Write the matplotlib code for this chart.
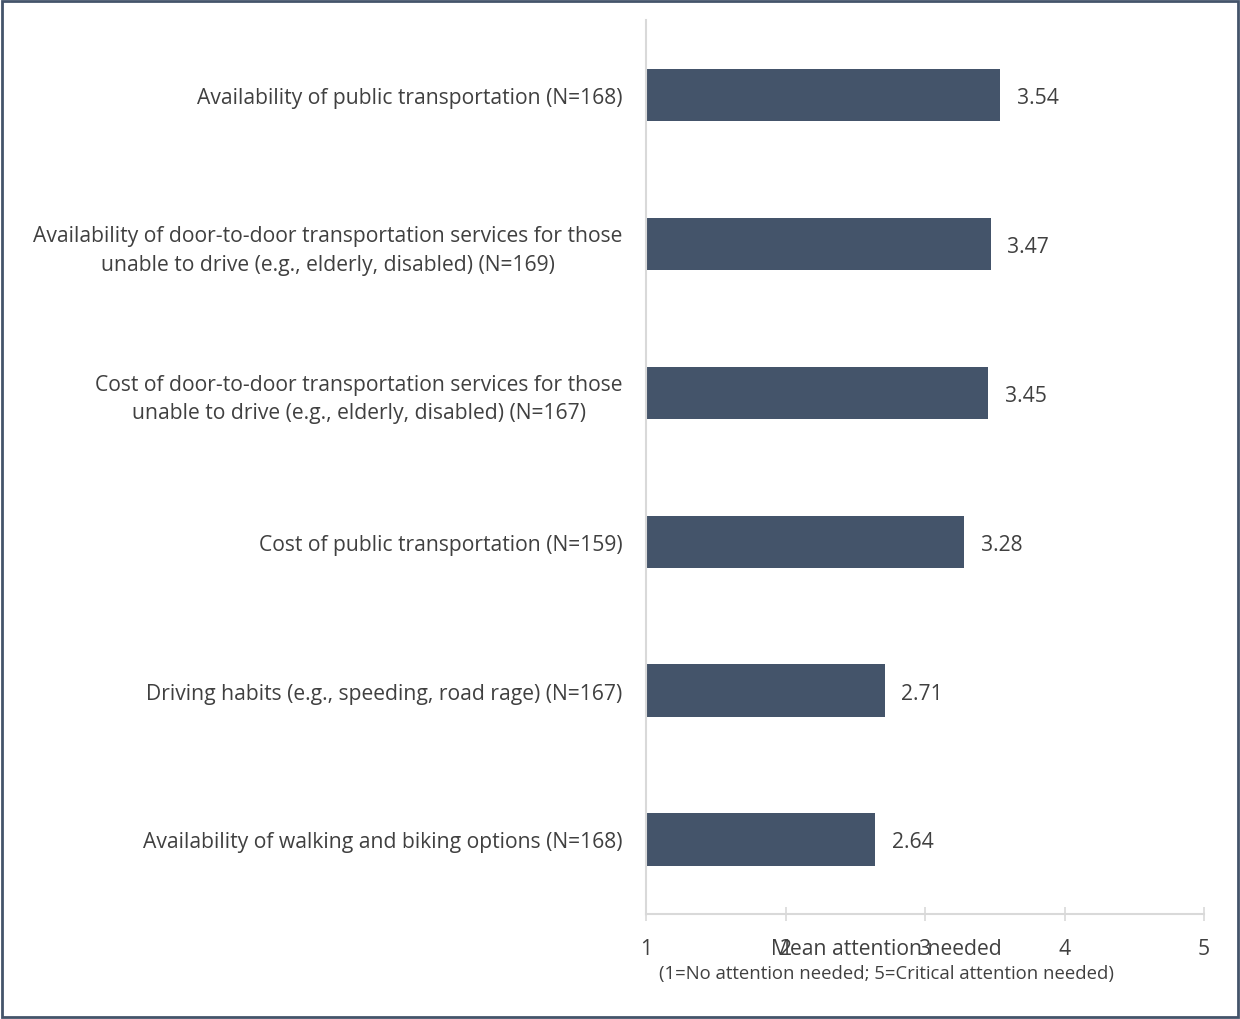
import matplotlib
matplotlib.use("Agg")
import matplotlib.pyplot as plt
from matplotlib.patches import Rectangle

# data, top to bottom
labels = [
    "Availability of public transportation (N=168)",
    "Availability of door-to-door transportation services for those\nunable to drive (e.g., elderly, disabled) (N=169)",
    "Cost of door-to-door transportation services for those\nunable to drive (e.g., elderly, disabled) (N=167)",
    "Cost of public transportation (N=159)",
    "Driving habits (e.g., speeding, road rage) (N=167)",
    "Availability of walking and biking options (N=168)",
]
means = [3.54, 3.47, 3.45, 3.28, 2.71, 2.64]
xticks = [1, 2, 3, 4, 5]

plt.rcParams['font.family'] = ['Open Sans', 'DejaVu Sans']
txt = "#404040"
bar_col = "#44546A"
grid_col = "#D9D9D9"
fs = 15.2

fig = plt.figure(figsize=(12.4, 10.2), dpi=100)
ax = fig.add_axes([0.521, 0.103, 0.450, 0.876])

ypos = list(range(len(means)))[::-1]
ax.barh(ypos, [m - 1 for m in means], left=1, height=0.35, color=bar_col)
for y, m in zip(ypos, means):
    ax.text(m + 0.12, y, "%.2f" % m, va="center_baseline", ha="left", fontsize=fs, color=txt)

ax.set_xlim(1, 5)
ax.set_ylim(-0.5, len(means) - 0.5)
ax.set_xticks(xticks)
ax.set_xticklabels([str(t) for t in xticks], fontsize=fs, color=txt)
ax.set_yticks(ypos)
ax.set_yticklabels(labels, fontsize=fs, color=txt, linespacing=1.45, multialignment="center")

for s in ["top", "right"]:
    ax.spines[s].set_visible(False)
ax.spines["left"].set_color(grid_col)
ax.spines["bottom"].set_color(grid_col)
ax.spines["left"].set_linewidth(1.5)
ax.spines["bottom"].set_linewidth(1.5)
ax.tick_params(axis="y", length=0, pad=17)
ax.tick_params(axis="x", direction="inout", length=10, width=1.2, color=grid_col, pad=12)

fig.text(0.715, 0.064, "Mean attention needed", ha="center", fontsize=fs, color=txt)
fig.text(0.715, 0.040, "(1=No attention needed; 5=Critical attention needed)", ha="center",
         fontsize=13.3, color=txt)

# outer border
fig.patches.append(Rectangle((0.002, 0.002), 0.996, 0.996, transform=fig.transFigure,
                             fill=False, edgecolor="#44546A", linewidth=2))

fig.savefig("out.png", dpi=100)
